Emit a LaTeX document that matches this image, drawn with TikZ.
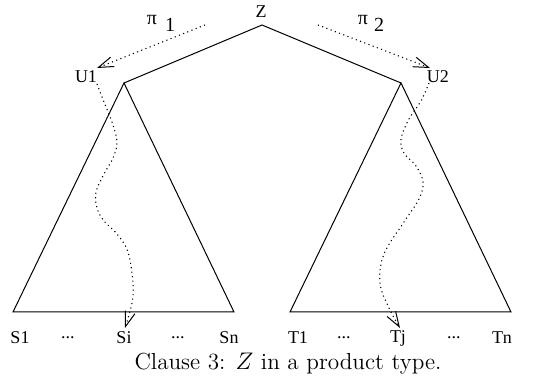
\documentclass[tikz,border=0pt]{standalone}
\usepackage{fontspec}
\newfontfamily\lblfont{Liberation Serif}
\usetikzlibrary{arrows.meta}
\begin{document}
\begin{tikzpicture}[x=0.5pt,y=-0.5pt,
  edge/.style={line width=0.5pt},
  dotline/.style={line width=0.55pt, dash pattern=on 0.55pt off 1.7pt},
  barb/.style={-{Straight Barb[length=7.5pt,width=5pt,line width=0.5pt]}},
  lbl/.style={inner sep=0pt, font=\lblfont\fontsize{9}{10}\selectfont}]
\useasboundingbox (0,0) rectangle (543,390);
% vertices
\coordinate (top) at (262,25);
\coordinate (la) at (124,83);
\coordinate (ra) at (401,83);
\coordinate (lbl) at (13,312);
\coordinate (lbr) at (234,312);
\coordinate (rbl) at (290,312);
\coordinate (rbr) at (511,312);
% trees
\draw[edge] (la) -- (top) -- (ra);
\draw[edge] (lbl) -- (la) -- (lbr) -- cycle;
\draw[edge] (rbl) -- (ra) -- (rbr) -- cycle;
% labels
\node[lbl] (Z) at (261,12) {Z};
\node[lbl] (U1) at (86,77) {U1};
\node[lbl] (U2) at (438,77) {U2};
\node[lbl, font=\lblfont\fontsize{10}{11}\selectfont] (p1) at (161,23) {π\hspace{4pt}\raisebox{-3.5pt}{1}};
\node[lbl, font=\lblfont\fontsize{10}{11}\selectfont] (p2) at (371,23) {π\hspace{3pt}\raisebox{-3.5pt}{2}};
\node[lbl] (S1) at (20,338) {S1};
\node[lbl] (d1) at (68,338) {...};
\node[lbl] (Si) at (124,338) {Si};
\node[lbl] (d2) at (178,338) {...};
\node[lbl] (Sn) at (229,338) {Sn};
\node[lbl] (T1) at (298,338) {T1};
\node[lbl] (d3) at (344,338) {...};
\node[lbl] (Tj) at (398,338) {Tj};
\node[lbl] (d4) at (454,338) {...};
\node[lbl] (Tn) at (502,338) {Tn};
\node[inner sep=0pt, font=\fontsize{11.6}{13}\selectfont] (cap) at (288,364) {Clause 3: $Z$ in a product type.};
% projection arrows
\coordinate (p1s) at (205,25);
\coordinate (p1e) at (97,68);
\coordinate (p2s) at (318,25);
\coordinate (p2e) at (430,68);
\draw[dotline, barb] (p1s) -- (p1e);
\draw[dotline, barb] (p2s) -- (p2e);
% wavy paths
\draw[dotline, barb] plot[smooth, tension=0.6] coordinates {(97,84) (104,102) (112,122) (117,142) (113,158) (104,174) (96,192) (97,208) (104,221) (117,234) (128,252) (133,283) (132,303) (125,328)};
\draw[dotline, barb] plot[smooth, tension=0.6] coordinates {(429,83) (421,101) (409,119) (401,139) (404,153) (416,166) (423,182) (419,199) (404,222) (384,254) (380,283) (389,308) (400,328)};
\end{tikzpicture}
\end{document}
